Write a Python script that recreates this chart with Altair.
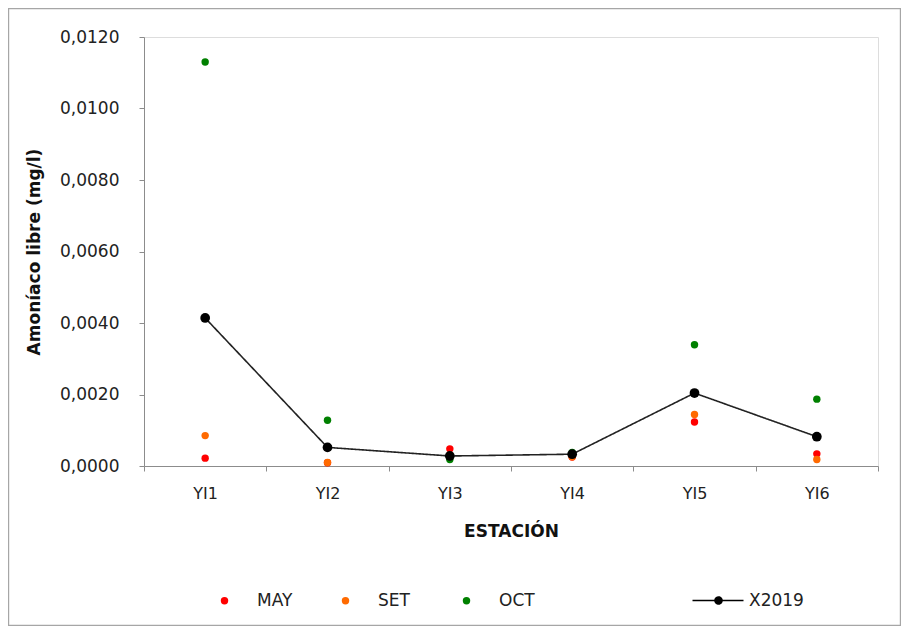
import altair as alt
import pandas as pd

estaciones = ["YI1", "YI2", "YI3", "YI4", "YI5", "YI6"]
may = [0.00022, 0.00009, 0.00048, 0.00025, 0.00123, 0.00034]
set_ = [0.00085, 0.00010, 0.00030, 0.00026, 0.00144, 0.00018]
oct_ = [0.01130, 0.00128, 0.00018, 0.00038, 0.00339, 0.00187]
x2019 = [0.00414, 0.00052, 0.00028, 0.00033, 0.00204, 0.00082]

series_names = ["MAY", "SET", "OCT"]
series_colors = ["#FF0000", "#FF6A00", "#008000"]

rows = []
for name, vals in zip(series_names, [may, set_, oct_]):
    for e, v in zip(estaciones, vals):
        rows.append({"estacion": e, "serie": name, "valor": v})
pts = pd.DataFrame(rows)
line_df = pd.DataFrame({"estacion": estaciones, "serie": "X2019", "valor": x2019})

FONT = "DejaVu Sans"
W, H = 734, 429
PAD = {"left": 136, "top": 29, "right": 23, "bottom": 160}

xenc = alt.X("estacion:N", sort=estaciones,
             scale=alt.Scale(type="band", paddingInner=0, paddingOuter=0),
             axis=alt.Axis(title="ESTACIÓN", tickBand="extent", labelAngle=0,
                           labelFont=FONT, labelFontSize=16, labelColor="#222",
                           labelPadding=14, tickSize=5, tickColor="#8c8c8c",
                           domainColor="#8c8c8c", titleFont=FONT, titleFontSize=17,
                           titleFontWeight="bold", titleColor="#111", titlePadding=22,
                           grid=False))
yscale = alt.Scale(domain=[0, 0.012], nice=False, zero=True)
yaxis = alt.Axis(title="Amoníaco  libre (mg/l)", values=[0, 0.002, 0.004, 0.006, 0.008, 0.010, 0.012],
                 labelExpr="replace(format(datum.value, '.4f'), '.', ',')",
                 labelFont=FONT, labelFontSize=17, labelColor="#222", labelPadding=20,
                 tickSize=5, tickColor="#8c8c8c", domainColor="#8c8c8c",
                 titleFont=FONT, titleFontSize=17, titleFontWeight="bold", titleColor="#111",
                 titlePadding=16, grid=False)

points = alt.Chart(pts).mark_circle(size=55, opacity=1).encode(
    x=xenc,
    y=alt.Y("valor:Q", scale=yscale, axis=yaxis),
    color=alt.Color("serie:N", sort=series_names,
                    scale=alt.Scale(domain=series_names, range=series_colors),
                    legend=alt.Legend(title=None, orient="none", direction="horizontal",
                                      legendX=72, legendY=555, padding=0,
                                      symbolType="circle", symbolSize=55,
                                      labelOffset=24, gridAlign="all", columnPadding=44,
                                      labelFont=FONT, labelFontSize=17, labelColor="#222")),
    order=alt.Order("order:Q"),
).transform_calculate(order="indexof(['MAY','SET','OCT'], datum.serie)")

legend_path = ("M-5.2,0H5 "
               "M0.7,0A0.7,0.7 0 1,1 -0.7,0A0.7,0.7 0 1,1 0.7,0Z "
               "M0.45,0A0.45,0.45 0 1,1 -0.45,0A0.45,0.45 0 1,1 0.45,0Z "
               "M0.2,0A0.2,0.2 0 1,1 -0.2,0A0.2,0.2 0 1,1 0.2,0Z")

line = alt.Chart(line_df).mark_line(color="#222", strokeWidth=1.6).encode(
    x=alt.X("estacion:N", sort=estaciones),
    y=alt.Y("valor:Q", scale=yscale),
    strokeDash=alt.StrokeDash("serie:N",
                              scale=alt.Scale(domain=["X2019"], range=[[1, 0]]),
                              legend=alt.Legend(title=None, orient="none", direction="horizontal",
                                                legendX=566, legendY=555, padding=0,
                                                symbolType=legend_path, symbolSize=100,
                                                symbolFillColor="black", symbolStrokeColor="black",
                                                symbolStrokeWidth=1.6, labelOffset=22,
                                                labelFont=FONT, labelFontSize=17, labelColor="#222")),
)

markers = alt.Chart(line_df).mark_circle(size=95, color="black", opacity=1).encode(
    x=alt.X("estacion:N", sort=estaciones),
    y=alt.Y("valor:Q", scale=yscale),
)

frame = alt.Chart(pd.DataFrame({"a": [0]})).mark_rect(
    fill=None, stroke="#a6a6a6", strokeWidth=1.2
).encode(
    x=alt.value(-PAD["left"] + 0.6), x2=alt.value(W + PAD["right"] - 0.6),
    y=alt.value(-PAD["top"] + 0.6), y2=alt.value(H + PAD["bottom"] - 0.6),
)

chart = alt.layer(frame, points, line, markers).resolve_scale(
    color="independent"
).properties(
    width=W, height=H,
    autosize=alt.AutoSizeParams(type="none"),
    padding=PAD,
).configure_view(stroke=None).configure(background="white")

chart.save("out.html", embed_options={"renderer": "svg", "actions": False})
